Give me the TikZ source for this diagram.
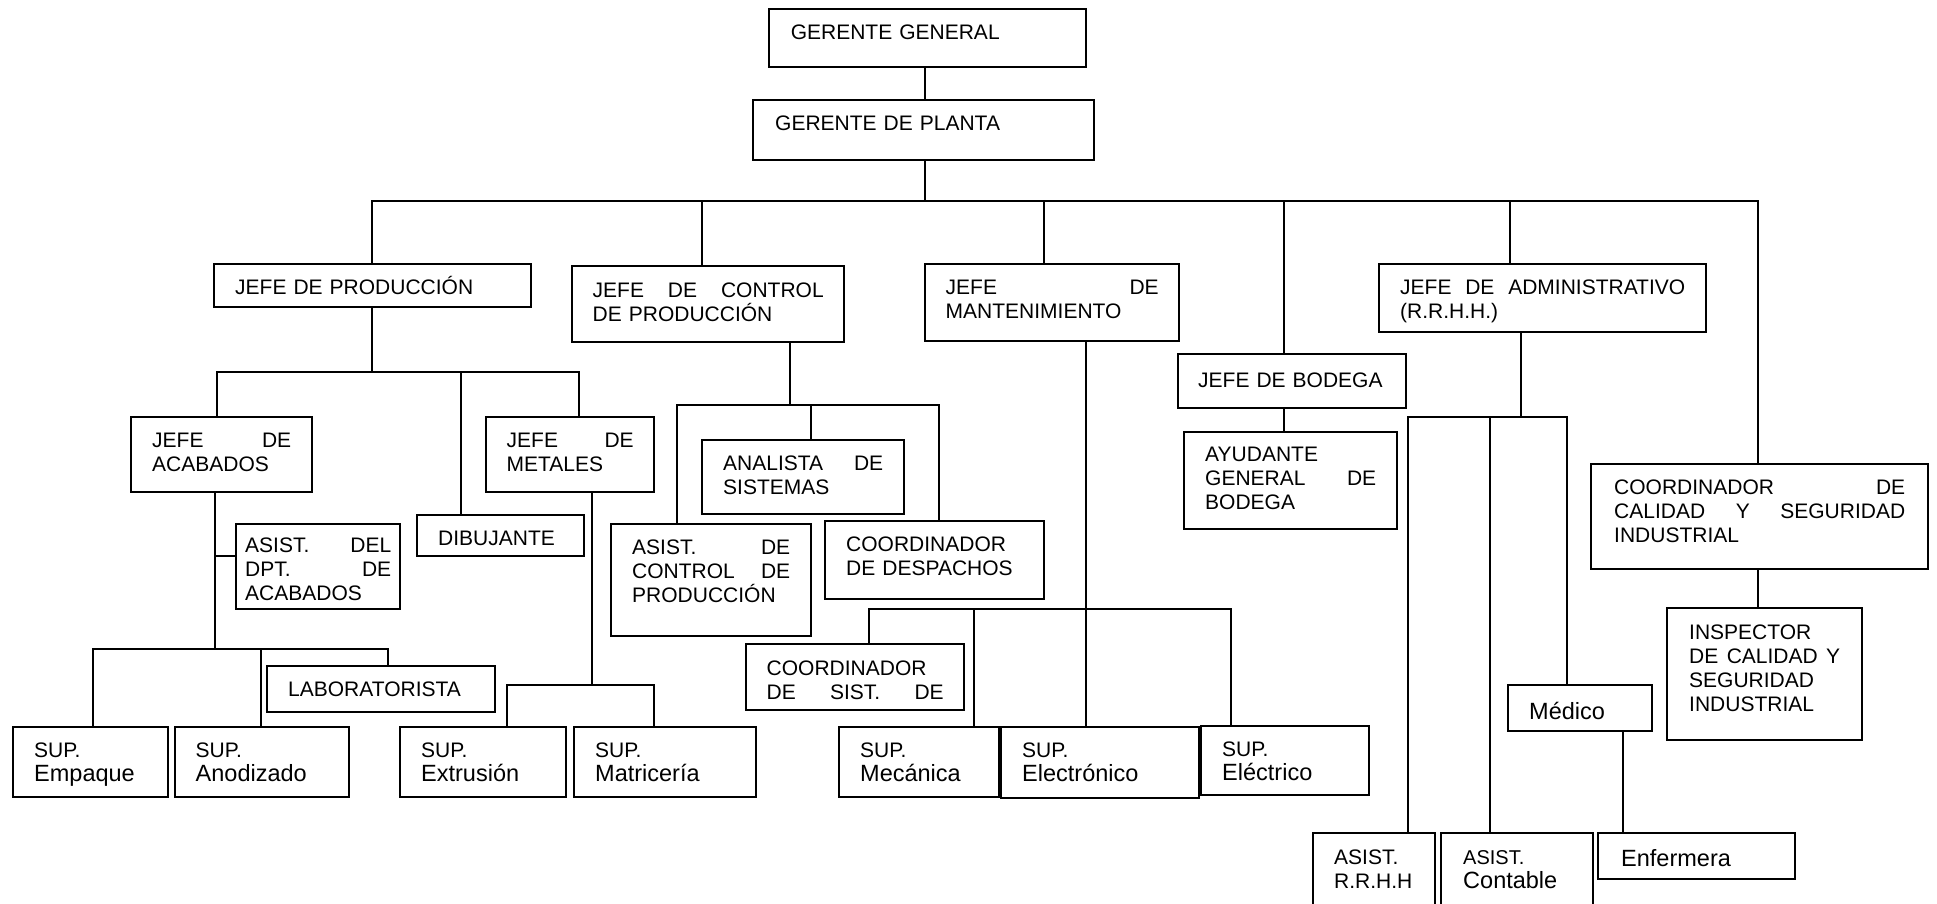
\documentclass[tikz,border=0pt]{standalone}
\usepackage{fontspec}
\setmainfont{Liberation Sans}
\usetikzlibrary{calc}
\newcommand\myBig{\fontsize{23.5}{26.7}\selectfont}
\newcommand\mySup{\fontsize{21}{26.7}\selectfont}
\tikzset{
  box/.style={draw, line width=2pt, inner sep=0pt, outer sep=0pt, anchor=north west},
  conn/.style={line width=1.8pt, line cap=rect},
  lbl/.style={anchor=base west, inner sep=0pt, align=left, font=\fontsize{21}{24}\selectfont},
}
% \bx{name}{left}{top}{right}{bottom}{padx}{baseline offset}{text}
\newcommand\bx[8]{%
  \node[box, minimum width={(#4-#2)*1pt}, minimum height={(#5-#3)*1pt}] (#1) at (#2,#3) {};
  \pgfmathsetmacro\mytw{#4-#2-2*#6}%
  \node[lbl, text width=\mytw pt] (#1t) at ($(#1.north west)+(#6,#7)$) {#8};}
\begin{document}
\begin{tikzpicture}[x=1pt,y=-1pt]
\useasboundingbox (0,0) rectangle (1937,903);
\clip (0,0) rectangle (1937,903);

% boxes
\bx{gg}{769}{9}{1086}{67}{21.6}{30}{GERENTE GENERAL}
\bx{gp}{753}{100}{1094}{160}{22}{30}{GERENTE DE PLANTA}
\bx{jprod}{214}{264}{531}{307}{21}{30}{JEFE DE PRODUCCIÓN}
\bx{jctrl}{572}{266}{844}{342}{20.5}{31}{JEFE\hfill DE\hfill CONTROL\\DE PRODUCCIÓN}
\bx{jmant}{925}{264}{1179}{341}{20.5}{30}{JEFE\hfill DE\\MANTENIMIENTO}
\bx{jbod}{1178}{354}{1406}{408}{20}{33}{JEFE DE BODEGA}
\bx{jadm}{1379}{264}{1706}{332}{21}{30}{JEFE\hfill DE\hfill ADMINISTRATIVO\\(R.R.H.H.)}
\bx{cal}{1591}{464}{1928}{569}{23}{30}{COORDINADOR\hfill DE\\CALIDAD\hfill Y\hfill SEGURIDAD\\INDUSTRIAL}
\bx{insp}{1667}{608}{1862}{740}{22}{31}{INSPECTOR\\DE\hfill CALIDAD\hfill Y\\SEGURIDAD\\INDUSTRIAL}
\bx{acab}{131}{417}{312}{492}{21}{30.7}{JEFE\hfill DE\\ACABADOS}
\bx{met}{486}{417}{654}{492}{20.5}{30.7}{JEFE\hfill DE\\METALES}
\bx{dib}{417}{515}{584}{556}{21}{30}{DIBUJANTE}
\bx{anal}{702}{440}{904}{514}{21}{30}{ANALISTA\hfill DE\\SISTEMAS}
\bx{asctrl}{611}{524}{811}{636}{21}{30}{ASIST.\hfill DE\\CONTROL\hfill DE\\PRODUCCIÓN}
\bx{desp}{825}{521}{1044}{599}{21}{30}{COORDINADOR\\DE DESPACHOS}
\bx{asacab}{236}{524}{400}{609}{9}{28}{ASIST.\hfill DEL\\DPT.\hfill DE\\ACABADOS}
\bx{lab}{267}{666}{495}{712}{21}{30}{LABORATORISTA}
\bx{empaque}{13}{727}{168}{797}{21}{30}{\mySup SUP.\\{\myBig Empaque}}
\bx{anod}{175}{727}{349}{797}{20.5}{30}{\mySup SUP.\\{\myBig Anodizado}}
\bx{extr}{400}{727}{566}{797}{21}{30}{\mySup SUP.\\{\myBig Extrusión}}
\bx{matr}{574}{727}{756}{797}{21}{30}{\mySup SUP.\\{\myBig Matricería}}
\bx{csist}{746}{644}{964}{710}{20.5}{31}{COORDINADOR\\DE\hfill SIST.\hfill DE}
\bx{mec}{839}{727}{999}{797}{21}{30}{\mySup SUP.\\{\myBig Mecánica}}
\bx{elec}{1001}{727}{1199}{798}{21}{30}{\mySup SUP.\\{\myBig Electrónico}}
\bx{electr}{1201}{726}{1369}{795}{21}{30}{\mySup SUP.\\{\myBig Eléctrico}}
\bx{ayud}{1184}{432}{1397}{529}{21}{29.7}{AYUDANTE\\GENERAL\hfill DE\\BODEGA}
\bx{rrhh}{1313}{833}{1435}{915}{21}{31}{ASIST.\\R.R.H.H}
\bx{cont}{1441}{833}{1593}{915}{22}{31}{\fontsize{20}{27.4}\selectfont ASIST.\\{\fontsize{23.5}{27.4}\selectfont Contable}}
\bx{med}{1508}{685}{1652}{731}{21}{34}{\myBig Médico}
\bx{enf}{1598}{833}{1795}{879}{23}{33}{\myBig Enfermera}

% top connectors
\coordinate (t0) at (925,201);
\coordinate (bL) at (372,201);
\coordinate (bR) at (1758,201);
\coordinate (b2) at (702,201);
\coordinate (b3) at (1044,201);
\coordinate (b4) at (1284,201);
\coordinate (b5) at (1510,201);
\draw[conn] (t0 |- gg.south) -- (t0 |- gp.north);
\draw[conn] (t0 |- gp.south) -- (t0);
\draw[conn] (bL) -- (bR);
\draw[conn] (bL) -- (bL |- jprod.north);
\draw[conn] (b2) -- (b2 |- jctrl.north);
\draw[conn] (b3) -- (b3 |- jmant.north);
\draw[conn] (b4) -- (b4 |- jbod.north);
\draw[conn] (b5) -- (b5 |- jadm.north);
\draw[conn] (bR) -- (bR |- cal.north);
\draw[conn] (bR |- cal.south) -- (bR |- insp.north);

% produccion
\coordinate (p0) at (372,372);
\coordinate (p1) at (217,372);
\coordinate (p2) at (461,372);
\coordinate (p3) at (579,372);
\draw[conn] (p0 |- jprod.south) -- (p0);
\draw[conn] (p1) -- (p3);
\draw[conn] (p1) -- (p1 |- acab.north);
\draw[conn] (p2) -- (p2 |- dib.north);
\draw[conn] (p3) -- (p3 |- met.north);

% acabados
\coordinate (a1) at (215,649);
\coordinate (aa) at (215,556);
\coordinate (a2) at (93,649);
\coordinate (a3) at (261,649);
\coordinate (a4) at (388,649);
\draw[conn] (a1 |- acab.south) -- (a1);
\draw[conn] (aa) -- (aa -| asacab.west);
\draw[conn] (a2) -- (a4);
\draw[conn] (a2) -- (a2 |- empaque.north);
\draw[conn] (a3) -- (a3 |- anod.north);
\draw[conn] (a4) -- (a4 |- lab.north);

% metales
\coordinate (m1) at (592,685);
\coordinate (m2) at (507,685);
\coordinate (m3) at (654,685);
\draw[conn] (m1 |- met.south) -- (m1);
\draw[conn] (m2) -- (m3);
\draw[conn] (m2) -- (m2 |- extr.north);
\draw[conn] (m3) -- (m3 |- matr.north);

% control de produccion
\coordinate (c1) at (790,405);
\coordinate (c0) at (677,405);
\coordinate (c2) at (811,405);
\coordinate (c3) at (939,405);
\draw[conn] (c1 |- jctrl.south) -- (c1);
\draw[conn] (c0) -- (c3);
\draw[conn] (c0) -- (c0 |- asctrl.north);
\draw[conn] (c2) -- (c2 |- anal.north);
\draw[conn] (c3) -- (c3 |- desp.north);

% mantenimiento
\coordinate (k1) at (1086,609);
\coordinate (k0) at (869,609);
\coordinate (k2) at (974,609);
\coordinate (k3) at (1231,609);
\draw[conn] (k1 |- jmant.south) -- (k1 |- elec.north);
\draw[conn] (k0) -- (k3);
\draw[conn] (k0) -- (k0 |- csist.north);
\draw[conn] (k2) -- (k2 |- mec.north);
\draw[conn] (k3) -- (k3 |- electr.north);

% bodega
\draw[conn] (b4 |- jbod.south) -- (b4 |- ayud.north);

% administrativo
\coordinate (e1) at (1521,417);
\coordinate (e0) at (1408,417);
\coordinate (e2) at (1490,417);
\coordinate (e3) at (1567,417);
\draw[conn] (e1 |- jadm.south) -- (e1);
\draw[conn] (e0) -- (e3);
\draw[conn] (e0) -- (e0 |- rrhh.north);
\draw[conn] (e2) -- (e2 |- cont.north);
\draw[conn] (e3) -- (e3 |- med.north);
\coordinate (f1) at (1623,731);
\draw[conn] (f1 |- med.south) -- (f1 |- enf.north);
\end{tikzpicture}
\end{document}
